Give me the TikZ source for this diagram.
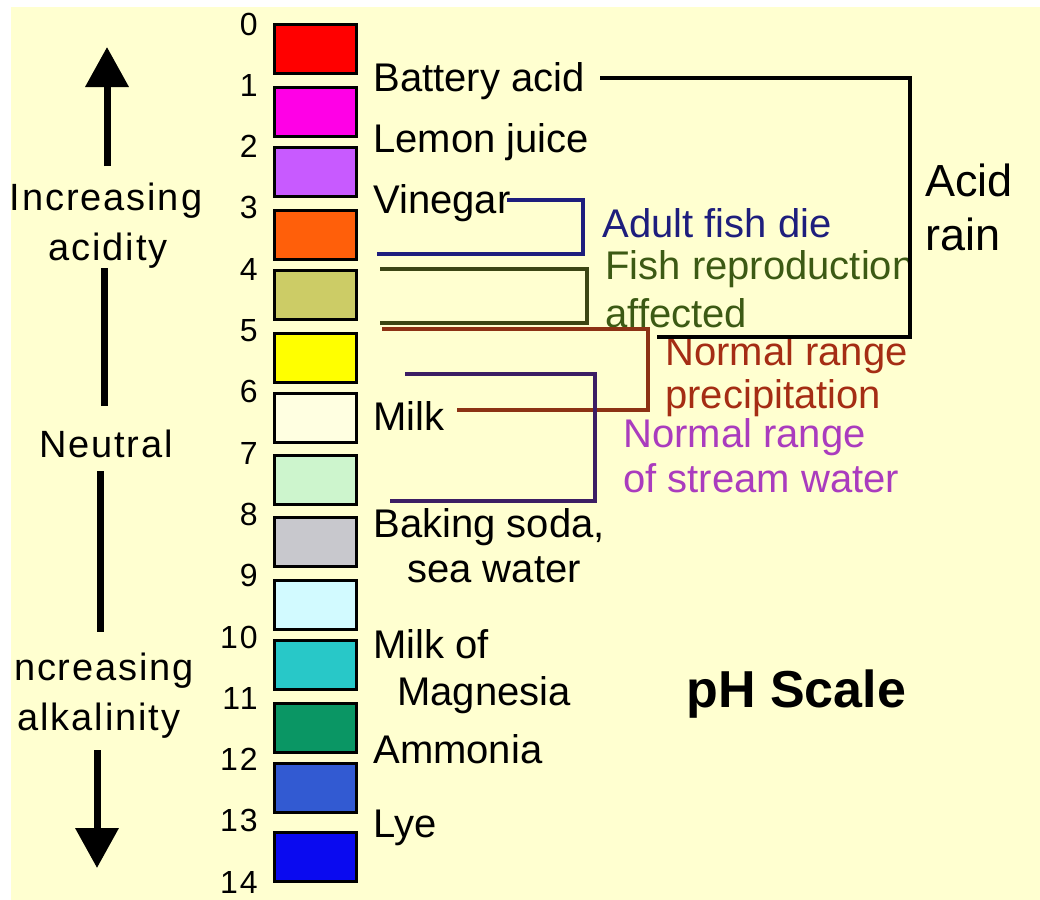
\documentclass[tikz,border=0pt]{standalone}
\usepackage{fontspec}
\setmainfont{Liberation Sans}
\usetikzlibrary{arrows.meta,positioning}

\definecolor{bgyellow}{RGB}{255,255,208}
\definecolor{phzero}{RGB}{255,0,0}
\definecolor{phone}{RGB}{255,0,230}
\definecolor{phtwo}{RGB}{200,90,255}
\definecolor{phthree}{RGB}{255,95,10}
\definecolor{phfour}{RGB}{204,204,102}
\definecolor{phfive}{RGB}{255,255,0}
\definecolor{phsix}{RGB}{255,255,225}
\definecolor{phseven}{RGB}{205,245,205}
\definecolor{pheight}{RGB}{200,200,205}
\definecolor{phnine}{RGB}{210,250,255}
\definecolor{phten}{RGB}{40,200,200}
\definecolor{pheleven}{RGB}{10,150,100}
\definecolor{phtwelve}{RGB}{50,90,210}
\definecolor{phthirteen}{RGB}{10,10,240}
\definecolor{fishblue}{RGB}{30,30,125}
\definecolor{fishgreen}{RGB}{60,90,20}
\definecolor{fishline}{RGB}{60,70,20}
\definecolor{rainred}{RGB}{165,45,20}
\definecolor{rainline}{RGB}{140,50,20}
\definecolor{streampink}{RGB}{170,60,190}
\definecolor{streamline}{RGB}{60,30,100}

\begin{document}
\begin{tikzpicture}[
    x=0.5pt,y=-0.5pt,
    item/.style={anchor=base west,inner sep=0pt,font=\fontsize{20}{24}\selectfont},
    side/.style={anchor=base,inner sep=0pt,font=\fontsize{19}{23}\selectfont\addfontfeatures{LetterSpace=5}},
    num/.style={anchor=base east,inner sep=0pt,font=\fontsize{16}{19}\selectfont\addfontfeatures{LetterSpace=6}},
    swatch/.style={draw=black,line width=1.5pt},
    bracket/.style={line width=1.8pt},
    bigarrow/.style={line width=3.5pt,-{Triangle[width=21pt,length=20pt]}}
]

% Background
\useasboundingbox (0,0) rectangle (1040,900);
\fill[white] (0,0) rectangle (1040,900);
\fill[bgyellow] (11,7) rectangle (1040,900);

% Colour swatches
\foreach \ytop/\col in {23/phzero,86/phone,146/phtwo,209/phthree,269/phfour,
    332/phfive,392/phsix,454/phseven,516/pheight,579/phnine,639/phten,
    702/pheleven,762/phtwelve,831/phthirteen}
    \draw[swatch,fill=\col] (274.5,\ytop+1.5) rectangle (356.5,\ytop+50);

% pH numbers
\foreach \n in {0,...,14}
    \node[num] (num\n) at (258,35+61.3*\n) {\n};

% Left side
\node[side] (incacid) at (106,210) {Increasing};
\node[side] (acidity) at (108,260) {acidity};
\node[side] (neutral) at (106,457) {Neutral};
\node[side] (incalk) at (104,680) {ncreasing};
\node[side] (alkalinity) at (99,730) {alkalinity};

\draw[bigarrow] (107,166) -- (107,47);
\draw[line width=3.5pt] (104,268) -- (104,406);
\draw[line width=3.5pt] (100,471) -- (100,632);
\draw[bigarrow] (97,750) -- (97,868);

% Substances
\node[item] (battery) at (373,91) {Battery acid};
\node[item] (lemon) at (373,152) {Lemon juice};
\node[item] (vinegar) at (373,213) {Vinegar};
\node[item] (milk) at (373,430) {Milk};
\node[item] (baking) at (373,537) {Baking soda,};
\node[item] (seawater) at (407,582) {sea water};
\node[item] (milkof) at (373,658) {Milk of};
\node[item] (magnesia) at (397,705) {Magnesia};
\node[item] (ammonia) at (373,763) {Ammonia};
\node[item] (lye) at (373,837) {Lye};

% Effects
\node[item,text=fishblue] (fishdie) at (602,237) {Adult fish die};
\node[item,text=fishgreen] (fishrep) at (605,279) {Fish reproduction};
\node[item,text=fishgreen] (affected) at (605,327) {affected};
\node[item,text=rainred] (precipa) at (665,365) {Normal range};
\node[item,text=rainred] (precipb) at (665,408) {precipitation};
\node[item,text=streampink] (streama) at (623,447) {Normal range};
\node[item,text=streampink] (streamb) at (623,492) {of stream water};

% Brackets
\draw[bracket,draw=fishblue] (507,200) -| (583,254) -- (377,254);
\draw[bracket,draw=fishline] (380,269) -| (587,323) -- (380,323);
\draw[bracket,draw=rainline] (382,329) -| (648,410) -- (457,410);
\draw[bracket,draw=streamline] (405,374) -| (595,501) -- (390,501);
\draw[bracket,draw=black] (600,78) -| (910,337) -- (657,337);

% Acid rain
\node[anchor=base west,inner sep=0pt,font=\fontsize{22.5}{27}\selectfont] (acid) at (925,196) {Acid};
\node[anchor=base west,inner sep=0pt,font=\fontsize{22.5}{27}\selectfont] (rain) at (925,250) {rain};

% Title
\node[anchor=base west,inner sep=0pt,font=\fontsize{26}{31}\selectfont\bfseries] (title) at (686,707) {pH Scale};

\end{tikzpicture}
\end{document}
